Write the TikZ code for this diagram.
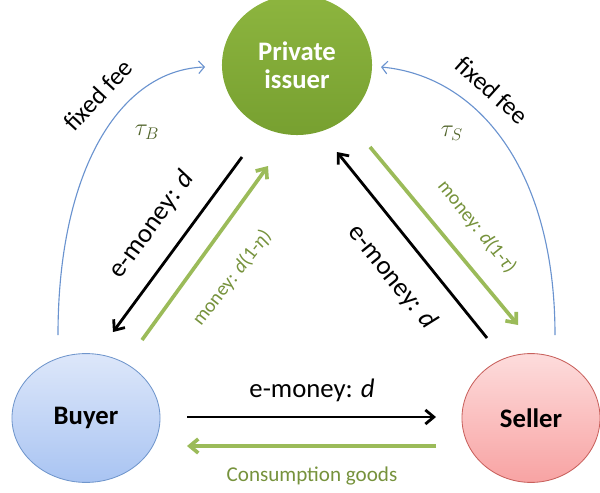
\documentclass[tikz,border=0pt]{standalone}
\usepackage{fontspec}
\setmainfont{Carlito}
\usetikzlibrary{arrows.meta,shapes.geometric}
\definecolor{issuergreen}{HTML}{8DB53F}
\definecolor{issuerdark}{HTML}{77A030}
\definecolor{moneygreen}{HTML}{9BBB59}
\definecolor{textgreen}{HTML}{76923C}
\definecolor{taugreen}{HTML}{4F6228}
\definecolor{feeblue}{HTML}{6A93CF}
\definecolor{buyertop}{HTML}{DDE7FA}
\definecolor{buyerbot}{HTML}{A9C4F2}
\definecolor{buyerline}{HTML}{7096CC}
\definecolor{sellertop}{HTML}{FDDCDC}
\definecolor{sellerbot}{HTML}{F8A3A3}
\definecolor{sellerline}{HTML}{C8605C}
\begin{document}
\begin{tikzpicture}[x=0.025cm,y=-0.025cm]
    \tikzstyle{party}=[shape=ellipse,draw,line width=0.6pt,font=\bfseries\fontsize{19}{20}\selectfont,align=center]
    \tikzstyle{flow}=[line width=2pt,-{Straight Barb[length=6pt,width=10pt]}]
    \tikzstyle{cash}=[draw=moneygreen,line width=2.6pt,-{Straight Barb[length=6pt,width=10pt]}]
    \tikzstyle{fee}=[draw=feeblue,line width=0.8pt,-{Straight Barb[length=4pt,width=9pt]}]
    \tikzstyle{lbl}=[inner sep=1pt,font=\fontsize{19}{22}\selectfont]
    \tikzstyle{glbl}=[inner sep=1pt,text=textgreen,font=\fontsize{14}{16}\selectfont]
    \tikzstyle{feelbl}=[inner sep=1pt,font=\fontsize{18}{20}\selectfont]
    \tikzstyle{tau}=[text=taugreen,font=\fontsize{18}{20}\selectfont]

    \useasboundingbox (0,0) rectangle (600,493);

    \node[party,draw=none,minimum width=3.75cm,minimum height=3.5cm,top color=issuergreen,bottom color=issuerdark,text=white](issuer) at (297,65){Private\\issuer};
    \node[party,draw=buyerline,minimum width=3.7cm,minimum height=3.22cm,top color=buyertop,bottom color=buyerbot](buyer) at (86,418){Buyer};
    \node[party,draw=sellerline,minimum width=3.45cm,minimum height=3.22cm,top color=sellertop,bottom color=sellerbot](seller) at (531,418){Seller};

    \coordinate (bi1) at (242,157);
    \coordinate (bi2) at (113,332);
    \coordinate (ib1) at (142,340);
    \coordinate (ib2) at (268,166);
    \coordinate (si1) at (487,338);
    \coordinate (si2) at (337,152);
    \coordinate (is1) at (370,147);
    \coordinate (is2) at (518,325);
    \coordinate (bs1) at (187,417);
    \coordinate (bs2) at (436,417);
    \coordinate (sb1) at (436,446);
    \coordinate (sb2) at (187,446);
    \coordinate (bf) at (58,335);
    \coordinate (sf) at (555,335);

    \draw[flow] (bi1) -- (bi2);
    \draw[cash] (ib1) -- (ib2);
    \draw[flow] (si1) -- (si2);
    \draw[cash] (is1) -- (is2);
    \draw[flow] (bs1) -- (bs2);
    \draw[cash] (sb1) -- (sb2);

    \draw[fee] (bf) .. controls (58,170) and (120,70) .. (205,67);
    \draw[fee] (sf) .. controls (555,170) and (478,76) .. (381,67);

    \node[lbl,rotate=54](emb) at (152,225){e-money: \textit{d}};
    \node[glbl,rotate=52](mb) at (232,278){money: \textit{d}(1-\textit{η})};
    \node[lbl,rotate=-51](ems) at (392,277){e-money: \textit{d}};
    \node[glbl,rotate=-51](ms) at (477,227){money: \textit{d}(1-\textit{τ})};
    \node[feelbl,rotate=47](ffb) at (98,95){fixed fee};
    \node[feelbl,rotate=-42](ffs) at (492,90){fixed fee};
    \node[tau](taub) at (147,132){$\tau_B$};
    \node[tau](taus) at (452,133){$\tau_S$};
    \node[lbl](emh) at (312,390){e-money: \textit{d}};
    \node[glbl,font=\fontsize{15}{17}\selectfont](goods) at (312,476){Consumption goods};
\end{tikzpicture}
\end{document}
